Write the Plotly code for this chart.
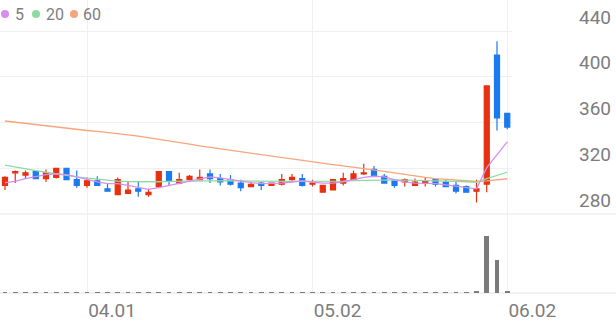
import plotly.graph_objects as go

# ---------------- data ----------------
dates = [
    "2025-03-20", "2025-03-21", "2025-03-24", "2025-03-25", "2025-03-26", "2025-03-27", "2025-03-28", "2025-03-31",
    "2025-04-01", "2025-04-02", "2025-04-03", "2025-04-04", "2025-04-07", "2025-04-08", "2025-04-09", "2025-04-10",
    "2025-04-11", "2025-04-14", "2025-04-15", "2025-04-16", "2025-04-17", "2025-04-18", "2025-04-21", "2025-04-22",
    "2025-04-23", "2025-04-24", "2025-04-25", "2025-04-28", "2025-04-29", "2025-04-30",
    "2025-05-02", "2025-05-07", "2025-05-08", "2025-05-09", "2025-05-12", "2025-05-13", "2025-05-14", "2025-05-15",
    "2025-05-16", "2025-05-19", "2025-05-20", "2025-05-21", "2025-05-22", "2025-05-23", "2025-05-26", "2025-05-27",
    "2025-05-28", "2025-05-29", "2025-05-30", "2025-06-02",
]
open_ = [305, 316, 314, 317, 311, 312, 320, 310, 305, 309, 302, 297, 298, 302, 297, 304, 317, 307, 310, 310,
         315, 311, 310, 307, 304, 307, 305, 306, 310, 311, 306, 299, 301, 307, 310, 315, 319, 313, 309, 308,
         305, 307, 310, 308, 305, 304, 300, 306, 419, 368]
high = [313, 318, 318, 317, 319, 320, 320, 318, 312, 313, 307, 312, 308, 308, 302, 317, 317, 316, 314, 319,
        319, 315, 314, 310, 308, 308, 307, 315, 315, 315, 310, 305, 310, 316, 318, 324, 322, 315, 310, 311,
        311, 312, 311, 310, 308, 305, 310, 392, 431, 368]
low = [301, 307, 311, 311, 308, 311, 310, 303, 303, 305, 300, 297, 298, 295, 295, 303, 305, 306, 309, 309,
       307, 305, 305, 300, 304, 301, 305, 305, 309, 304, 304, 299, 301, 305, 310, 314, 313, 307, 303, 304,
       305, 304, 304, 304, 298, 299, 290, 299, 353, 354]
close = [312, 317, 316, 311, 316, 320, 310, 305, 309, 305, 300, 310, 301, 300, 299, 317, 309, 310, 313, 312,
         311, 308, 306, 303, 306, 305, 307, 310, 312, 305, 307, 305, 310, 311, 315, 316, 313, 307, 305, 310,
         308, 309, 306, 304, 300, 299, 302, 392, 364, 356]
volume = [310000, 250000, 330000, 180000, 260000, 300000, 220000, 280000, 240000, 200000, 270000, 350000,
          230000, 260000, 210000, 380000, 290000, 240000, 200000, 260000, 230000, 190000, 210000, 250000,
          180000, 220000, 170000, 260000, 230000, 250000, 190000, 240000, 300000, 220000, 260000, 280000,
          240000, 210000, 200000, 180000, 190000, 230000, 200000, 210000, 260000, 280000, 560000, 31200000,
          17900000, 930000]
ma5 = [307.5, 308.5, 311.0, 313.0, 314.5, 315.0, 314.5, 312.5, 310.0, 308.0, 306.5, 306.5, 305.0, 303.5, 301.5,
       303.0, 305.0, 307.0, 309.0, 311.0, 312.5, 311.5, 310.0, 308.5, 307.5, 306.5, 306.5, 307.0, 308.0, 309.0,
       308.0, 307.0, 307.0, 308.0, 310.0, 312.0, 313.0, 312.5, 310.0, 308.0, 307.0, 306.8, 306.5, 305.5, 304.5,
       303.5, 302.0, 320.5, 332.0, 343.0]
ma20 = [322.8, 321.0, 319.5, 318.0, 316.5, 315.0, 313.7, 312.5, 311.4, 310.4, 309.5, 308.8, 308.3, 308.1, 308.0,
        308.2, 308.5, 308.7, 308.9, 309.1, 309.3, 309.3, 309.1, 308.9, 308.7, 308.5, 308.4, 308.4, 308.5, 308.6,
        308.6, 308.5, 308.6, 308.8, 309.2, 309.5, 309.8, 309.9, 309.8, 309.7, 309.6, 309.5, 309.3, 309.0, 308.6,
        308.2, 307.6, 311.0, 313.8, 316.5]
ma60 = [361.3, 360.2, 359.2, 358.1, 357.1, 356.0, 355.0, 354.0, 353.0, 352.2, 351.4, 350.4, 349.2, 348.0, 346.7,
        345.4, 344.1, 342.6, 341.0, 339.5, 338.2, 337.0, 335.8, 334.6, 333.4, 332.1, 330.8, 329.5, 328.0, 326.6,
        325.4, 324.3, 323.2, 322.1, 321.0, 319.8, 318.6, 317.2, 315.9, 314.4, 313.0, 312.0, 311.0, 310.2, 309.5,
        308.9, 308.4, 308.9, 309.9, 310.8]
ma_labels = ["5", "20", "60"]
tick_dates = ["2025-04-01", "2025-05-02", "2025-06-02"]
tick_text = ["04.01", "05.02", "06.02"]
price_ticks = [280, 320, 360, 400, 440]

# ---------------- style ----------------
W, H = 616, 321
ML, MR, MT, MB = 0, 104, 0, 28
PW, PH = W - ML - MR, H - MT - MB
RED, BLUE = "#e8300f", "#1a7af0"
MA_COLORS = ["#d68ef2", "#8edb9f", "#f8a47c"]
GRID = "#f0f0f0"
TXT = "#7d7d7d"
FONT = "Roboto"

SEP_PX = 79                       # height of the volume panel in px
split = SEP_PX / PH
px_per_unit = 45.75 / 40.0
price_top = 280 + (PH - SEP_PX) / px_per_unit
step_px = 10.25
x_range = [-5 / step_px, (PW - 5) / step_px]
vol_range = [0, max(volume) * SEP_PX / 57.0]

fig = go.Figure()
fig.add_trace(go.Candlestick(
    x=dates, open=open_, high=high, low=low, close=close,
    increasing=dict(line=dict(color=RED, width=1.2), fillcolor=RED),
    decreasing=dict(line=dict(color=BLUE, width=1.2), fillcolor=BLUE),
    whiskerwidth=0, showlegend=False, hoverinfo="skip",
    xaxis="x", yaxis="y",
))
for vals, col in zip([ma60, ma20, ma5], [MA_COLORS[2], MA_COLORS[1], MA_COLORS[0]]):
    fig.add_trace(go.Scatter(x=dates, y=vals, mode="lines", line=dict(color=col, width=1.3),
                             showlegend=False, hoverinfo="skip", xaxis="x", yaxis="y"))
fig.add_trace(go.Bar(x=dates, y=volume, marker=dict(color="#7b7b7b", line=dict(width=0)),
                     width=0.45, showlegend=False, hoverinfo="skip", xaxis="x2", yaxis="y2"))

axis_common = dict(type="category", range=x_range, tickvals=tick_dates, ticktext=tick_text,
                   showgrid=True, gridcolor=GRID, gridwidth=1, zeroline=False, showline=False,
                   ticks="", automargin=False)

shapes = [
    dict(type="line", xref="paper", yref="paper", x0=0, x1=W / PW, y0=split, y1=split,
         line=dict(color="#e6e6e6", width=1), layer="below"),
    dict(type="line", xref="paper", yref="paper", x0=0, x1=W / PW, y0=0, y1=0,
         line=dict(color="#e3e3e3", width=1), layer="below"),
]

# legend of moving averages (dots + labels)
dot_x = [5, 36, 74]
lab_x = [15, 46, 83]
ly = 1 - 14 / PH
for dx, lx, lab, col in zip(dot_x, lab_x, ma_labels, MA_COLORS):
    shapes.append(dict(type="circle", xref="paper", yref="paper",
                       xsizemode="pixel", ysizemode="pixel",
                       xanchor=dx / PW, yanchor=ly, x0=-4, x1=4, y0=-4, y1=4,
                       fillcolor=col, line=dict(width=0), layer="above"))

fig.update_layout(
    width=W, height=H, margin=dict(l=ML, r=MR, t=MT, b=MB, autoexpand=False),
    paper_bgcolor="white", plot_bgcolor="white",
    font=dict(family=FONT, color=TXT),
    boxgap=0.3,
    xaxis=dict(axis_common, anchor="y", domain=[0, 1], showticklabels=False,
               rangeslider=dict(visible=False)),
    xaxis2=dict(axis_common, anchor="y2", domain=[0, 1], matches="x", showticklabels=True,
                tickfont=dict(size=19, color=TXT, family=FONT), ticklabelshift=25,
                ticklabelstandoff=4),
    yaxis=dict(domain=[split, 1], range=[280, price_top], side="right", tickvals=price_ticks,
               showgrid=True, gridcolor=GRID, zeroline=False, showline=False, ticks="",
               tickfont=dict(size=19, color=TXT, family=FONT), ticklabelshift=-14,
               ticklabelstandoff=66, automargin=False),
    yaxis2=dict(domain=[0, split], range=vol_range, showgrid=False, showticklabels=False,
                zeroline=False, showline=False, automargin=False),
    bargap=0,
    shapes=shapes,
)

for lx, lab in zip(lab_x, ma_labels):
    fig.add_annotation(x=lx / PW, y=ly, xref="paper", yref="paper", text=lab, showarrow=False,
                       xanchor="left", yanchor="middle", xshift=-2,
                       font=dict(size=16, color=TXT, family=FONT))

fig.write_html("out.html")
